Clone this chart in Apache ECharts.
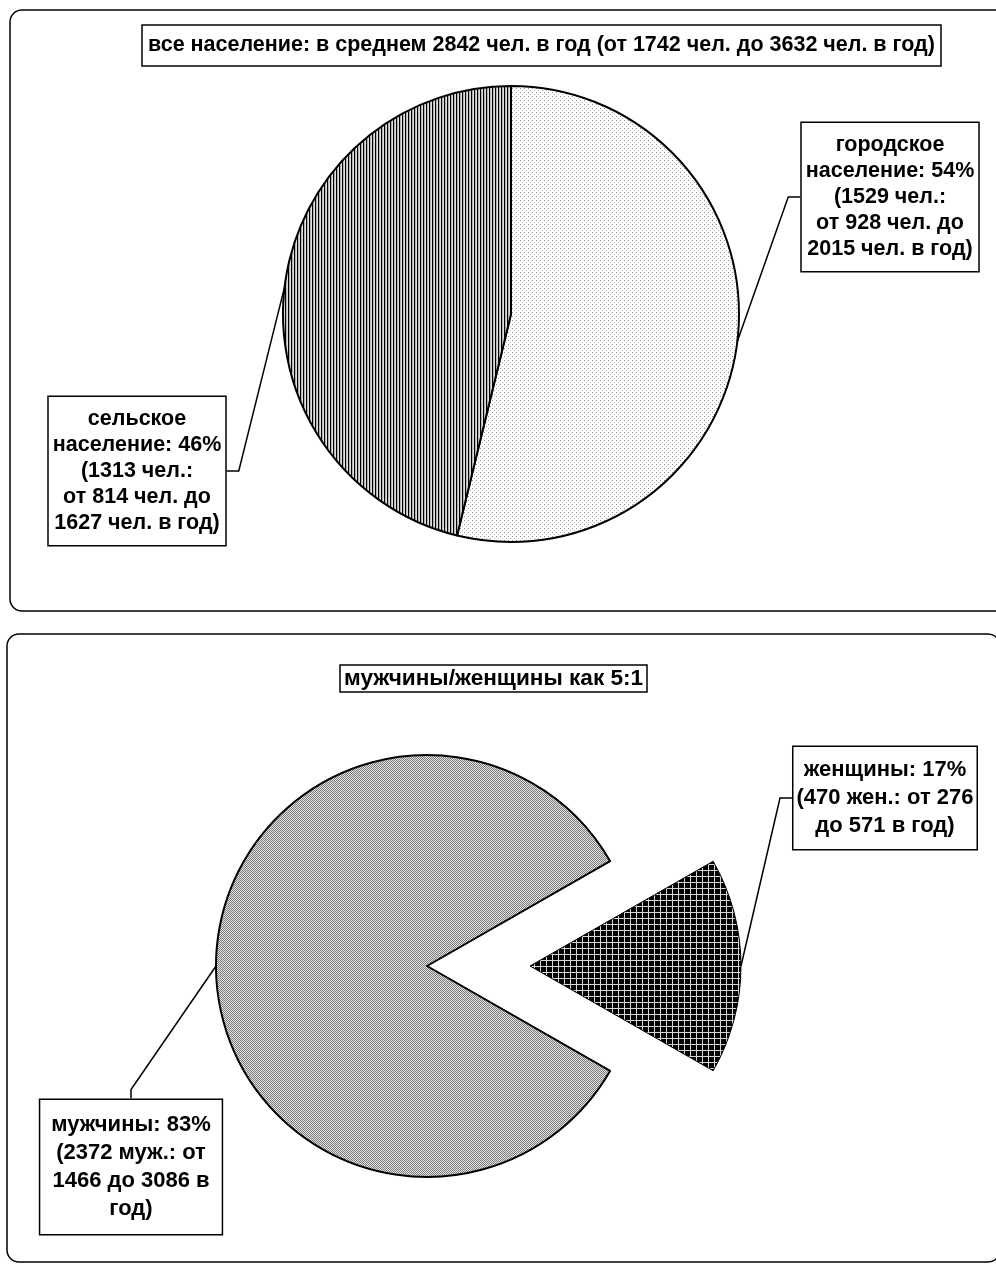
<!DOCTYPE html>
<html>
<head>
<meta charset="utf-8">
<script src="https://cdn.jsdelivr.net/npm/echarts@6/dist/echarts.min.js"></script>
<style>
  html, body { margin: 0; padding: 0; background: #fff; }
  #chart { width: 996px; height: 1264px; }
</style>
</head>
<body>
<div id="chart"></div>
<script>
// Население: городское / сельское (чел. в год)
const residenceTitle = 'все население: в среднем 2842 чел. в год (от 1742 чел. до 3632 чел. в год)';
const residenceNames = ['городское', 'сельское'];
const residenceValues = [1529, 1313];
const residenceMin = [928, 814];
const residenceMax = [2015, 1627];

// Население по полу (чел. в год)
const sexTitle = 'мужчины/женщины как 5:1';
const sexNames = ['женщины', 'мужчины'];
const sexAbbr = ['жен.', 'муж.'];
const sexValues = [470, 2372];
const sexMin = [276, 1466];
const sexMax = [571, 3086];

const FONT = "'Liberation Sans', Arial, Helvetica, sans-serif";

// Tiled fills for the slices
function makePattern(w, h, draw) {
  const c = document.createElement('canvas');
  c.width = w; c.height = h;
  const g = c.getContext('2d');
  draw(g, w, h);
  return { image: c, repeat: 'repeat' };
}
const dotFill = makePattern(4, 4, (g, w, h) => {
  g.fillStyle = '#fff'; g.fillRect(0, 0, w, h);
  g.fillStyle = '#8c8c8c'; g.fillRect(0, 0, 1, 1);
  g.fillStyle = '#b4b4b4'; g.fillRect(2, 2, 1, 1);
});
const stripeFill = makePattern(3, 1, (g, w, h) => {
  g.fillStyle = '#b4b4b4'; g.fillRect(0, 0, w, h);
  g.fillStyle = '#dedede'; g.fillRect(2, 0, 1, h);
  g.fillStyle = '#000'; g.fillRect(0, 0, 1, h);
});
const checkFill = makePattern(2, 2, (g, w, h) => {
  g.fillStyle = '#e4e4e4'; g.fillRect(0, 0, w, h);
  g.fillStyle = '#7a7a7a'; g.fillRect(0, 0, 1, 1); g.fillRect(1, 1, 1, 1);
});
const gridFill = makePattern(6, 6, (g, w, h) => {
  g.fillStyle = '#000'; g.fillRect(0, 0, w, h);
  g.fillStyle = '#d6d6d6'; g.fillRect(0, 0, w, 1); g.fillRect(0, 0, 1, h);
});
const hidden = {
  itemStyle: { color: 'rgba(0,0,0,0)', borderWidth: 0 },
  label: { show: false }, labelLine: { show: false }
};

function pct(values, i) {
  const total = values.reduce((a, b) => a + b, 0);
  return Math.round(values[i] / total * 100);
}

function residenceText(i) {
  return residenceNames[i] + '\nнаселение: ' + pct(residenceValues, i) + '%\n(' +
    residenceValues[i] + ' чел.:\nот ' + residenceMin[i] + ' чел. до\n' +
    residenceMax[i] + ' чел. в год)';
}
function sexText(i) {
  const head = sexNames[i] + ': ' + pct(sexValues, i) + '%\n(' + sexValues[i] + ' ' + sexAbbr[i] + ': от';
  if (i === 0) return head + ' ' + sexMin[i] + '\nдо ' + sexMax[i] + ' в год)';
  return head + '\n' + sexMin[i] + ' до ' + sexMax[i] + ' в\nгод)';
}

// Callout boxes: centre position, the box side the leader enters, and an elbowed leader line
function calloutLayout(anchors) {
  return function (p) {
    const a = anchors[p.dataIndex];
    if (!a) return {};
    const cx = a[0], cy = a[1], side = a[2];
    const w = p.labelRect.width, h = p.labelRect.height;
    const s = p.labelLinePoints ? p.labelLinePoints[0] : [cx, cy];
    let end, elbow;
    if (side === 'left') { end = [cx - w / 2, cy]; elbow = [end[0] - 12, cy]; }
    else if (side === 'right') { end = [cx + w / 2, cy]; elbow = [end[0] + 12, cy]; }
    else if (side === 'top') { end = [cx, cy - h / 2]; elbow = [cx, end[1] - 9]; }
    else { end = [cx, cy + h / 2]; elbow = [cx, end[1] + 9]; }
    return {
      x: cx, y: cy, align: 'center', verticalAlign: 'middle',
      labelLinePoints: [s, elbow, end]
    };
  };
}

function boxLabel(size, lineHeight, padding, formatter) {
  return {
    show: true, color: '#000', fontFamily: FONT, fontWeight: 'bold', fontSize: size,
    lineHeight: lineHeight, padding: padding, formatter: formatter,
    backgroundColor: '#fff', borderColor: '#000', borderWidth: 1.5, align: 'center'
  };
}
const leader = { show: true, smooth: false, lineStyle: { color: '#000', width: 1.5 } };

const chart = echarts.init(document.getElementById('chart'), null, { renderer: 'canvas' });
const sexTotal = sexValues.reduce((a, b) => a + b, 0);
const sexStart = 180 * sexValues[0] / sexTotal;   // women's slice centred on 3 o'clock
const sexCenter = [427, 966];
const sexExplode = 103;                            // pull-out distance of the women's slice

chart.setOption({
  animation: false,
  backgroundColor: '#fff',
  graphic: [
    { type: 'rect', shape: { x: 10, y: 10, width: 1000, height: 601, r: 12 },
      style: { fill: 'none', stroke: '#000', lineWidth: 1.5 }, z: -1, silent: true },
    { type: 'rect', shape: { x: 7, y: 634, width: 993, height: 628, r: 12 },
      style: { fill: 'none', stroke: '#000', lineWidth: 1.5 }, z: -1, silent: true }
  ],
  title: [
    { text: residenceTitle, left: 142, top: 25, padding: [9, 6],
      borderColor: '#000', borderWidth: 1.5, backgroundColor: '#fff',
      textStyle: { fontFamily: FONT, fontWeight: 'bold', fontSize: 21.5, lineHeight: 23, color: '#000' } },
    { text: sexTitle, left: 340, top: 665, padding: [2, 4],
      borderColor: '#000', borderWidth: 1.5, backgroundColor: '#fff',
      textStyle: { fontFamily: FONT, fontWeight: 'bold', fontSize: 22.6, lineHeight: 23, color: '#000' } }
  ],
  series: [
    {
      type: 'pie', center: [511, 314], radius: 228, startAngle: 90, clockwise: true,
      avoidLabelOverlap: false, silent: true, emphasis: { disabled: true },
      itemStyle: { borderColor: '#000', borderWidth: 2 },
      data: residenceValues.map((v, i) => ({
        value: v, name: residenceNames[i],
        itemStyle: { color: [dotFill, stripeFill][i] }
      })),
      label: boxLabel(21.5, 26, [9, 4], p => residenceText(p.dataIndex)),
      labelLine: leader,
      labelLayout: calloutLayout([[890, 197, 'left'], [137, 471, 'right']])
    },
    {
      // мужчины
      type: 'pie', center: sexCenter, radius: 211, startAngle: sexStart, clockwise: true,
      avoidLabelOverlap: false, silent: true, emphasis: { disabled: true },
      itemStyle: { borderColor: '#000', borderWidth: 2 },
      data: sexValues.map((v, i) => Object.assign(
        { value: v, name: sexNames[i] },
        i === 0 ? hidden : { itemStyle: { color: checkFill } }
      )),
      label: boxLabel(22, 28, [11, 11], p => sexText(p.dataIndex)),
      labelLine: leader,
      labelLayout: calloutLayout([null, [131, 1167, 'top']])
    },
    {
      // женщины (вынесенный сектор)
      type: 'pie', center: [sexCenter[0] + sexExplode, sexCenter[1]], radius: 211,
      startAngle: sexStart, clockwise: true,
      avoidLabelOverlap: false, silent: true, emphasis: { disabled: true },
      itemStyle: { borderColor: '#000', borderWidth: 1 },
      data: sexValues.map((v, i) => Object.assign(
        { value: v, name: sexNames[i] },
        i === 1 ? hidden : { itemStyle: { color: gridFill } }
      )),
      label: boxLabel(22, 28, [9, 3], p => sexText(p.dataIndex)),
      labelLine: leader,
      labelLayout: calloutLayout([[885, 798, 'left'], null])
    }
  ]
});
</script>
</body>
</html>
